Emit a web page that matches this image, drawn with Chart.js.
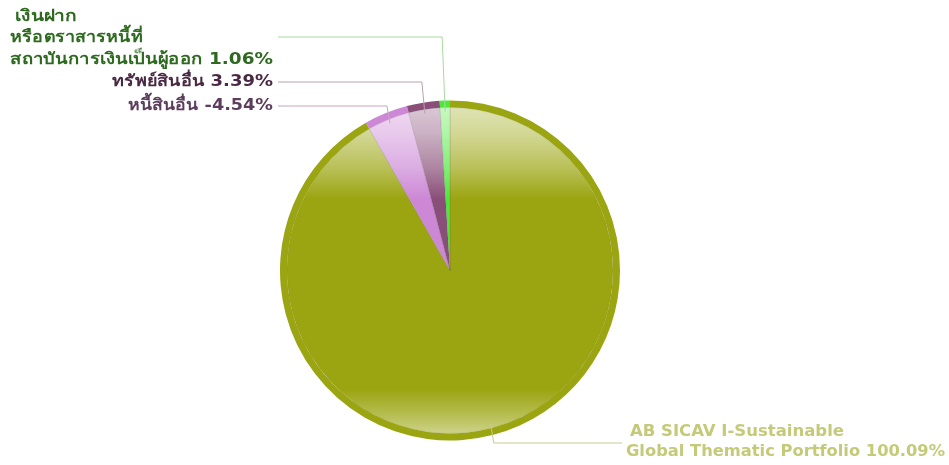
<!DOCTYPE html>
<html>
<head>
<meta charset="utf-8">
<script src="https://cdn.jsdelivr.net/npm/chart.js@4.4.1/dist/chart.umd.min.js"></script>
<style>
  html, body { margin: 0; padding: 0; background: #fff; }
  #wrap { width: 949px; height: 465px; position: relative; }
</style>
</head>
<body>
<div id="wrap"><canvas id="pie"></canvas></div>
<script>
(function () {
  'use strict';

  // data, clockwise from 12 o'clock
  const labels = [
    ['AB SICAV I-Sustainable', 'Global Thematic Portfolio 100.09%'],
    ['หนี้สินอื่น -4.54%'],
    ['ทรัพย์สินอื่น 3.39%'],
    ['เงินฝาก', 'หรือตราสารหนี้ที่', 'สถาบันการเงินเป็นผู้ออก 1.06%']
  ];
  const values = [100.09, -4.54, 3.39, 1.06];
  const sliceColors = ['#9ba511', '#cc88d5', '#8a4f79', '#4ce83a'];
  const textColors = ['#c4ca78', '#5c3d5c', '#4a2944', '#2d6a1f'];
  const lineColors = ['#c6cb8e', '#c4a6c4', '#b8a0b4', '#a8d8a0'];

  const sizes = values.map(v => Math.abs(v));
  const FONT = 'bold 16px "DejaVu Sans", Verdana, "Noto Sans", sans-serif';

  // label box per slice: [x, y, align, width] for each text line
  const labelBoxes = [
    [[630, 432, 'left', 214], [626, 452, 'left', 319]],
    [[273, 106, 'right', 145]],
    [[273, 82, 'right', 161]],
    [[15, 17, 'left', 62], [10, 38, 'left', 133], [10, 60, 'left', 263]]
  ];
  const elbowY = [443, 106, 82, 37];

  const hexToRgb = h => [1, 3, 5].map(i => parseInt(h.substr(i, 2), 16));
  const mix = (hex, t) => {
    const c = hexToRgb(hex).map(v => Math.round(v + (255 - v) * t));
    return `rgb(${c[0]},${c[1]},${c[2]})`;
  };

  // glossy fill: light band on top and bottom
  const glossFill = (ctx) => {
    const chart = ctx.chart;
    const area = chart.chartArea;
    const base = sliceColors[ctx.dataIndex];
    if (!area) return base;
    const top = area.top, h = area.bottom - area.top;
    const g = chart.ctx.createLinearGradient(0, top, 0, top + h);
    g.addColorStop(0, mix(base, 0.72));
    g.addColorStop(0.1, mix(base, 0.55));
    g.addColorStop(0.2, mix(base, 0.3));
    g.addColorStop(0.29, base);
    g.addColorStop(0.85, base);
    g.addColorStop(0.93, mix(base, 0.3));
    g.addColorStop(1, mix(base, 0.6));
    return g;
  };

  const fitText = (ctx, s, x, y, align, width) => {
    const w = ctx.measureText(s).width;
    const k = width / w;
    ctx.save();
    ctx.translate(align === 'right' ? x - width : x, y);
    ctx.scale(k, 1);
    ctx.textAlign = 'left';
    ctx.fillText(s, 0, 0);
    ctx.restore();
  };

  // leader lines + labels
  const labelPlugin = {
    id: 'sideLabels',
    afterDatasetsDraw(chart) {
      const ctx = chart.ctx;
      const meta = chart.getDatasetMeta(1);
      ctx.save();
      ctx.font = FONT;
      ctx.lineWidth = 1;
      ctx.textBaseline = 'middle';
      meta.data.forEach((arc, i) => {
        const p = arc.getProps(['x', 'y', 'startAngle', 'endAngle', 'outerRadius'], true);
        const mid = (p.startAngle + p.endAngle) / 2;
        const r = p.outerRadius - 4;
        const ax = p.x + Math.cos(mid) * r;
        const ay = p.y + Math.sin(mid) * r;
        const ey = elbowY[i];
        ctx.strokeStyle = lineColors[i];
        ctx.beginPath();
        ctx.moveTo(ax, ay);
        if (i === 0) {
          ctx.lineTo(ax + 3, ey);
          ctx.lineTo(622, ey);
        } else {
          ctx.lineTo(ax - 3, ey);
          ctx.lineTo(278, ey);
        }
        ctx.stroke();
        ctx.fillStyle = textColors[i];
        labels[i].forEach((s, k) => {
          const b = labelBoxes[i][k];
          fitText(ctx, s, b[0], b[1], b[2], b[3]);
        });
      });
      ctx.restore();
    }
  };

  new Chart(document.getElementById('pie'), {
    type: 'pie',
    data: {
      labels: labels.map(l => l.join(' ')),
      datasets: [
        {
          data: sizes,
          backgroundColor: sliceColors,
          borderWidth: 0,
          weight: 7
        },
        {
          data: sizes,
          backgroundColor: glossFill,
          borderColor: 'rgba(90,90,90,0.15)',
          borderWidth: 1,
          weight: 163
        }
      ]
    },
    options: {
      responsive: true,
      maintainAspectRatio: false,
      animation: false,
      layout: { padding: { left: 280, right: 329, top: 100, bottom: 24 } },
      plugins: {
        legend: { display: false },
        tooltip: { enabled: false }
      }
    },
    plugins: [labelPlugin]
  });
})();
</script>
</body>
</html>
